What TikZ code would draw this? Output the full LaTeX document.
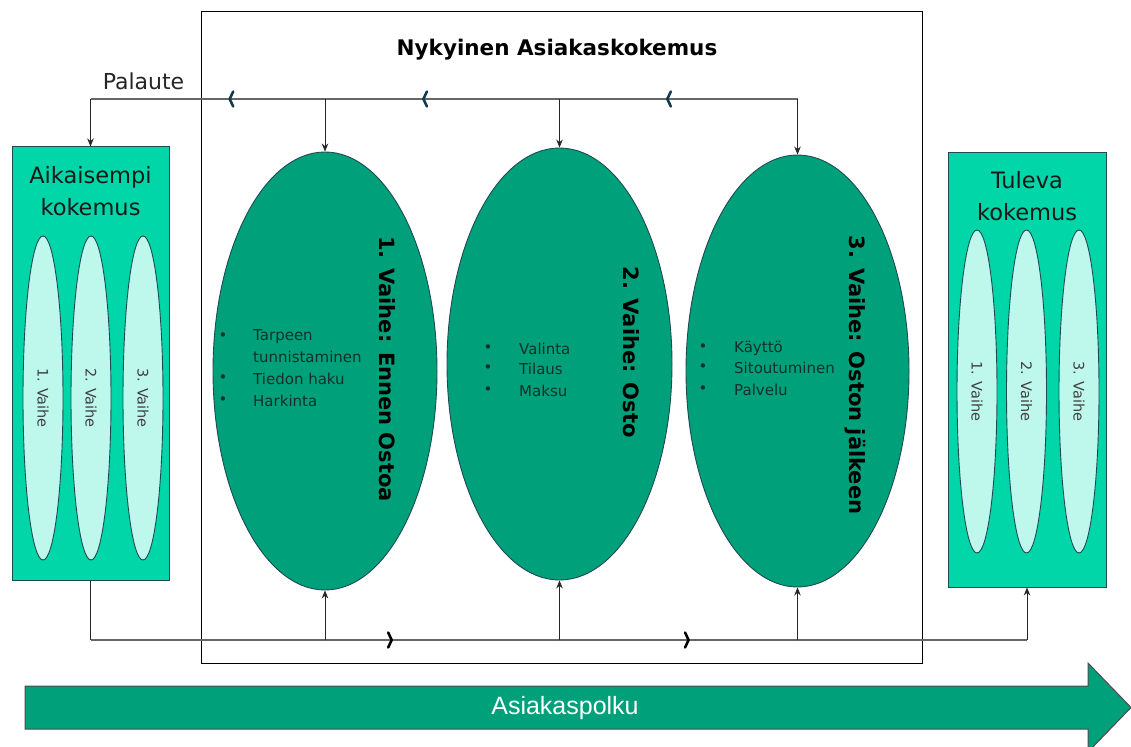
\documentclass[tikz,border=0pt]{standalone}
\usepackage{fontspec}
\setmainfont{DejaVu Sans}
\newfontfamily\pathfont{Liberation Sans}
\usetikzlibrary{shapes.geometric, arrows.meta, decorations.markings}
\definecolor{phase}{HTML}{00A07A}
\definecolor{boxfill}{HTML}{00D6A8}
\definecolor{slim}{HTML}{BEF7EC}
\definecolor{edge}{HTML}{1E4A55}
\definecolor{chevc}{HTML}{123C4C}
\definecolor{itemc}{HTML}{13302A}

\begin{document}
\begin{tikzpicture}[x=1pt,y=-1pt,
  phasenode/.style={ellipse, draw=edge, line width=0.9pt, fill=phase, inner sep=0pt},
  slimnode/.style={ellipse, draw=edge, line width=0.9pt, fill=slim, inner sep=0pt,
    minimum width=40pt, minimum height=324pt},
  sidebox/.style={rectangle, draw=edge, line width=1pt, fill=boxfill, inner sep=0pt},
  phaselabel/.style={rotate=-90, font=\bfseries\fontsize{21}{25}\selectfont, text=black, inner sep=0pt},
  slimlabel/.style={rotate=-90, font=\fontsize{14.5}{17}\selectfont, text=black!75, inner sep=0pt},
  boxtitle/.style={font=\fontsize{22.5}{32}\selectfont, align=center, text=black!90, inner sep=0pt},
  bul/.style={font=\fontsize{15}{18}\selectfont, text=itemc, inner sep=0pt},
  itemtext/.style={font=\fontsize{15}{18}\selectfont, text=itemc, inner sep=0pt, anchor=west},
  bus/.style={draw=black!60, line width=1.4pt},
  plain/.style={draw=black!85, line width=0.8pt},
  feed/.style={plain, -{Stealth[length=8pt,width=6.5pt]}},
  chevline/.style={line width=2.6pt, line cap=round, line join=round},
  chevtop/.style={postaction=decorate, decoration={markings,
    mark=at position 0.182 with {\draw[chevline, chevc] (-2pt,-7.5pt) -- (1.5pt,0pt) -- (-2pt,7.5pt);},
    mark=at position 0.527 with {\draw[chevline, chevc] (-2pt,-7.5pt) -- (1.5pt,0pt) -- (-2pt,7.5pt);},
    mark=at position 0.801 with {\draw[chevline, chevc] (-2pt,-7.5pt) -- (1.5pt,0pt) -- (-2pt,7.5pt);}}},
  chevbottom/.style={postaction=decorate, decoration={markings,
    mark=at position 0.320 with {\draw[chevline, black] (-2pt,-7.5pt) -- (1.5pt,0pt) -- (-2pt,7.5pt);},
    mark=at position 0.637 with {\draw[chevline, black] (-2pt,-7.5pt) -- (1.5pt,0pt) -- (-2pt,7.5pt);}}},
]
\clip (0,0) rectangle (1131,746);
\fill[white] (0,0) rectangle (1131,746);

% frame of the current experience
\node[draw=black, line width=1pt, inner sep=0pt, minimum width=721pt, minimum height=651pt]
  (frame) at (561.5,337.5) {};
\node[font=\bfseries\fontsize{21.5}{25}\selectfont] (title) at (557,50) {Nykyinen Asiakaskokemus};
\node[font=\fontsize{22}{26}\selectfont, text=black!85] (fbtext) at (143.5,81) {Palaute};

% earlier experience
\node[sidebox, minimum width=157pt, minimum height=433pt] (prev) at (90.5,363.5) {};
\node[boxtitle] (prevtitle) at (90.5,191) {Aikaisempi\\kokemus};
\node[slimnode] (p1) at (43,398) {};
\node[slimnode] (p2) at (91,398) {};
\node[slimnode] (p3) at (143,398) {};
\node[slimlabel] at (p1) {1. Vaihe};
\node[slimlabel] at (p2) {2. Vaihe};
\node[slimlabel] at (p3) {3. Vaihe};

% future experience
\node[sidebox, minimum width=158pt, minimum height=434pt] (next) at (1027,370) {};
\node[boxtitle] (nexttitle) at (1027,196.5) {Tuleva\\kokemus};
\node[slimnode, minimum height=323pt] (n1) at (977,391.5) {};
\node[slimnode, minimum height=323pt] (n2) at (1026.5,391.5) {};
\node[slimnode, minimum height=323pt] (n3) at (1079,391.5) {};
\node[slimlabel] at (n1) {1. Vaihe};
\node[slimlabel] at (n2) {2. Vaihe};
\node[slimlabel] at (n3) {3. Vaihe};

% the three phases
\node[phasenode, minimum width=224pt, minimum height=438pt] (e1) at (325,371) {};
\node[phasenode, minimum width=225pt, minimum height=432pt] (e2) at (559.5,364) {};
\node[phasenode, minimum width=223pt, minimum height=432pt] (e3) at (797.5,371) {};
\node[phaselabel] (l1) at (387,369) {1. Vaihe: Ennen Ostoa};
\node[phaselabel] (l2) at (631,352) {2. Vaihe: Osto};
\node[phaselabel] (l3) at (855,375) {3. Vaihe: Oston jälkeen};

% phase contents
\node[bul] at (223,337) {•};
\node[itemtext] at (253,337) {Tarpeen};
\node[itemtext] at (253,357) {tunnistaminen};
\node[bul] at (223,379) {•};
\node[itemtext] at (253,379) {Tiedon haku};
\node[bul] at (223,401) {•};
\node[itemtext] at (253,401) {Harkinta};

\node[bul] at (488,349) {•};
\node[itemtext] at (519,349) {Valinta};
\node[bul] at (488,369) {•};
\node[itemtext] at (519,369) {Tilaus};
\node[bul] at (488,391) {•};
\node[itemtext] at (519,391) {Maksu};

\node[bul] at (703,348) {•};
\node[itemtext] at (734,348) {Käyttö};
\node[bul] at (703,368) {•};
\node[itemtext] at (734,368) {Sitoutuminen};
\node[bul] at (703,390) {•};
\node[itemtext] at (734,390) {Palvelu};

% feedback loop along the top
\coordinate (busT) at (0,99);
\coordinate (fbL) at (prev.north |- busT);
\coordinate (fbR) at (e3.north |- busT);
\draw[bus, chevtop] (fbR) -- (fbL);
\draw[feed] (fbL) -- (prev.north);
\draw[feed] (fbR) -- (e3.north);
\draw[feed] (e1.north |- busT) -- (e1.north);
\draw[feed] (e2.north |- busT) -- (e2.north);

% forward flow along the bottom
\coordinate (busB) at (0,640);
\coordinate (bL) at (prev.south |- busB);
\coordinate (bR) at (next.south |- busB);
\draw[plain] (prev.south) -- (bL);
\draw[bus, chevbottom] (bL) -- (bR);
\draw[feed] (bR) -- (next.south);
\draw[feed] (e1.south |- busB) -- (e1.south);
\draw[feed] (e2.south |- busB) -- (e2.south);
\draw[feed] (e3.south |- busB) -- (e3.south);

% customer path arrow
\draw[fill=phase, draw=black!70, line width=1pt]
  (25,686) -- (1088,686) -- (1088,663) -- (1131,707.5) -- (1088,752) -- (1088,729) -- (25,729) -- cycle;
\node[font=\pathfont\fontsize{25}{30}\selectfont, text=white] (path) at (565,708) {Asiakaspolku};
\end{tikzpicture}
\end{document}
